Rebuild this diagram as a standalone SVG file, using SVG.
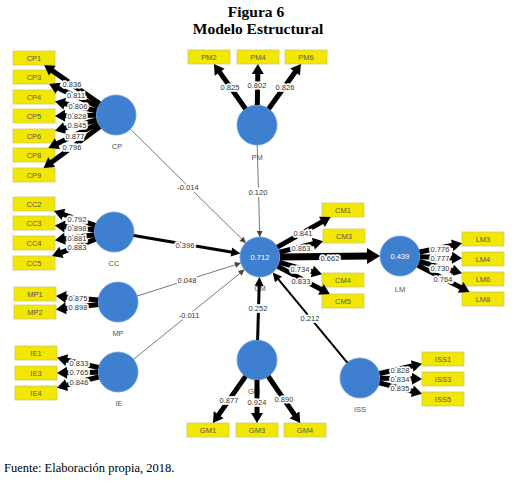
<svg xmlns="http://www.w3.org/2000/svg" width="514" height="486" viewBox="0 0 514 486">
<style>
.title{font-family:"Liberation Serif",serif;font-weight:bold;font-size:15.5px;fill:#000;text-anchor:middle}
.foot{font-family:"Liberation Serif",serif;font-size:12.5px;fill:#000}
.lv{fill:#3f7fd0;stroke:#6a9ddd;stroke-width:0.8}
.ind rect{fill:#f2e700;stroke:#cfc86a;stroke-width:0.8}
.ind text,.nl{font-family:"Liberation Sans",Arial,sans-serif;font-size:7.5px;fill:#555;text-anchor:middle}
.iv{font-family:"Liberation Sans",Arial,sans-serif;font-size:7.5px;fill:#fff;text-anchor:middle}
.ld{stroke:#000;stroke-width:5;fill:none;marker-end:url(#ah)}
.thin{stroke:#555;stroke-width:0.8;fill:none;marker-end:url(#ahs)}
.med{stroke:#000;stroke-width:3;fill:none;marker-end:url(#ahm)}
.lab{font-family:"Liberation Sans",Arial,sans-serif;font-size:7.5px;fill:#333;text-anchor:middle;stroke:#fff;stroke-width:3.5;paint-order:stroke;stroke-linejoin:miter}
marker{overflow:visible}
</style>
<defs>
<marker id="ah" markerUnits="userSpaceOnUse" viewBox="-1 -7 11 14" markerWidth="11" markerHeight="14" refX="0" refY="0" orient="auto"><path d="M-1,-6 L9,0 L-1,6 z" fill="#000"/></marker>
<marker id="ahm" markerUnits="userSpaceOnUse" viewBox="-1 -5 10 10" markerWidth="10" markerHeight="10" refX="0" refY="0" orient="auto"><path d="M-1,-4.5 L8,0 L-1,4.5 z" fill="#000"/></marker>
<marker id="ahl" markerUnits="userSpaceOnUse" viewBox="-1 -9 14 18" markerWidth="14" markerHeight="18" refX="0" refY="0" orient="auto"><path d="M-1,-8 L12,0 L-1,8 z" fill="#000"/></marker>
<marker id="ahs" markerUnits="userSpaceOnUse" viewBox="-7 -4 8 8" markerWidth="8" markerHeight="8" refX="0" refY="0" orient="auto"><path d="M-6,-3 L0,0 L-6,3 z" fill="#444"/></marker>
</defs>
<rect width="514" height="486" fill="#fff"/>
<text class="title" x="256" y="17">Figura 6</text>
<text class="title" x="258" y="34">Modelo Estructural</text>

<g id="CP"><circle class="lv" cx="116" cy="115" r="20"/><text class="nl" x="117" y="149">CP</text></g>
<g id="PM"><circle class="lv" cx="257" cy="125" r="20"/><text class="nl" x="257" y="160">PM</text></g>
<g id="CC"><circle class="lv" cx="114" cy="232" r="20"/><text class="nl" x="114" y="266">CC</text></g>
<g id="MP"><circle class="lv" cx="118" cy="302" r="20"/><text class="nl" x="118" y="336">MP</text></g>
<g id="IE"><circle class="lv" cx="118" cy="372" r="20"/><text class="nl" x="119" y="406">IE</text></g>
<g id="CM"><circle class="lv" cx="260" cy="257" r="20"/><text class="iv" x="260" y="260">0.712</text><text class="nl" x="260" y="291">CM</text></g>
<g id="LM"><circle class="lv" cx="400" cy="256" r="20"/><text class="iv" x="400" y="259">0.439</text><text class="nl" x="400" y="292">LM</text></g>
<g id="GM"><circle class="lv" cx="257" cy="360" r="20"/><text class="nl" x="254" y="394">GM</text></g>
<g id="ISS"><circle class="lv" cx="360" cy="378" r="20"/><text class="nl" x="360" y="412">ISS</text></g>

<g class="ind">
<g id="CP1"><rect x="13" y="51" width="42" height="14"/><text x="34" y="60.5">CP1</text></g>
<g id="CP3"><rect x="13" y="70" width="42" height="14"/><text x="34" y="79.5">CP3</text></g>
<g id="CP4"><rect x="13" y="90" width="42" height="14"/><text x="34" y="99.5">CP4</text></g>
<g id="CP5"><rect x="13" y="109" width="42" height="14"/><text x="34" y="118.5">CP5</text></g>
<g id="CP6"><rect x="13" y="129" width="42" height="14"/><text x="34" y="138.5">CP6</text></g>
<g id="CP8"><rect x="13" y="148" width="42" height="14"/><text x="34" y="157.5">CP8</text></g>
<g id="CP9"><rect x="13" y="168" width="42" height="14"/><text x="34" y="177.5">CP9</text></g>
<g id="CC2"><rect x="13" y="197" width="42" height="14"/><text x="34" y="206.5">CC2</text></g>
<g id="CC3"><rect x="13" y="216" width="42" height="14"/><text x="34" y="225.5">CC3</text></g>
<g id="CC4"><rect x="13" y="236" width="42" height="14"/><text x="34" y="245.5">CC4</text></g>
<g id="CC5"><rect x="13" y="256" width="42" height="14"/><text x="34" y="265.5">CC5</text></g>
<g id="MP1"><rect x="14" y="287" width="42" height="14"/><text x="35" y="296.5">MP1</text></g>
<g id="MP2"><rect x="14" y="305" width="42" height="14"/><text x="35" y="314.5">MP2</text></g>
<g id="IE1"><rect x="15" y="346" width="42" height="14"/><text x="36" y="355.5">IE1</text></g>
<g id="IE3"><rect x="15" y="366" width="42" height="14"/><text x="36" y="375.5">IE3</text></g>
<g id="IE4"><rect x="15" y="386" width="42" height="14"/><text x="36" y="395.5">IE4</text></g>
<g id="PM2"><rect x="188" y="50" width="42" height="14"/><text x="209" y="59.5">PM2</text></g>
<g id="PM4"><rect x="237" y="50" width="42" height="14"/><text x="258" y="59.5">PM4</text></g>
<g id="PM6"><rect x="285" y="50" width="42" height="14"/><text x="306" y="59.5">PM6</text></g>
<g id="CM1"><rect x="322" y="203" width="42" height="14"/><text x="343" y="212.5">CM1</text></g>
<g id="CM3"><rect x="323" y="229" width="42" height="14"/><text x="344" y="238.5">CM3</text></g>
<g id="CM4"><rect x="322" y="273" width="42" height="14"/><text x="343" y="282.5">CM4</text></g>
<g id="CM5"><rect x="322" y="294" width="42" height="14"/><text x="343" y="303.5">CM5</text></g>
<g id="LM3"><rect x="462" y="232" width="42" height="14"/><text x="483" y="241.5">LM3</text></g>
<g id="LM4"><rect x="462" y="252" width="42" height="14"/><text x="483" y="261.5">LM4</text></g>
<g id="LM6"><rect x="462" y="272" width="42" height="14"/><text x="483" y="281.5">LM6</text></g>
<g id="LM8"><rect x="462" y="292" width="42" height="14"/><text x="483" y="301.5">LM8</text></g>
<g id="GM1"><rect x="187" y="423" width="42" height="14"/><text x="208" y="432.5">GM1</text></g>
<g id="GM3"><rect x="236" y="423" width="42" height="14"/><text x="257" y="432.5">GM3</text></g>
<g id="GM4"><rect x="284" y="423" width="42" height="14"/><text x="305" y="432.5">GM4</text></g>
<g id="ISS1"><rect x="422" y="352" width="42" height="14"/><text x="443" y="361.5">ISS1</text></g>
<g id="ISS3"><rect x="422" y="372" width="42" height="14"/><text x="443" y="381.5">ISS3</text></g>
<g id="ISS5"><rect x="422" y="392" width="42" height="14"/><text x="443" y="401.5">ISS5</text></g>
</g>

<g id="connectors">
<line class="ld" x1="99.6" y1="103.6" x2="51.5" y2="70.1"/>
<line class="ld" x1="97.9" y1="106.6" x2="57.3" y2="87.8"/>
<line class="ld" x1="96.5" y1="110.7" x2="63.8" y2="103.5"/>
<line class="ld" x1="96" y1="115.2" x2="64" y2="115.8"/>
<line class="ld" x1="96.6" y1="120" x2="63.7" y2="128.4"/>
<line class="ld" x1="98" y1="123.8" x2="56.5" y2="144"/>
<line class="ld" x1="99.9" y1="126.8" x2="50.9" y2="162.7"/>
<line class="ld" x1="95.1" y1="225.4" x2="62.5" y2="214"/>
<line class="ld" x1="94.1" y1="229.8" x2="63.9" y2="226.4"/>
<line class="ld" x1="94.2" y1="234.7" x2="63.9" y2="238.9"/>
<line class="ld" x1="95.4" y1="239.2" x2="60.5" y2="252.8"/>
<line class="ld" x1="98.1" y1="300.1" x2="65" y2="296.9"/>
<line class="ld" x1="98.1" y1="304.4" x2="64.9" y2="308.4"/>
<line class="ld" x1="98.5" y1="367.5" x2="65.8" y2="359.9"/>
<line class="ld" x1="98" y1="372.2" x2="66" y2="372.8"/>
<line class="ld" x1="98.6" y1="377" x2="65.7" y2="385.4"/>
<line class="ld" x1="245.5" y1="108.7" x2="219.1" y2="71.4"/>
<line class="ld" x1="257.3" y1="105" x2="257.8" y2="73"/>
<line class="ld" x1="268.7" y1="108.8" x2="295.7" y2="71.3"/>
<line class="ld" x1="277.4" y1="247.1" x2="322.8" y2="221.4"/>
<line class="ld" x1="279.4" y1="252.2" x2="314.3" y2="243.4"/>
<line class="ld" x1="279.3" y1="262.3" x2="313.3" y2="271.8"/>
<line class="ld" x1="277.7" y1="266.4" x2="321.8" y2="289.8"/>
<line class="ld" x1="419.6" y1="252" x2="453.2" y2="245.1"/>
<line class="ld" x1="420" y1="256.7" x2="453" y2="257.9"/>
<line class="ld" x1="419.3" y1="261.3" x2="453.3" y2="270.8"/>
<line class="ld" x1="417.8" y1="265.2" x2="461.5" y2="287.9"/>
<line class="ld" x1="245.5" y1="376.4" x2="218.1" y2="415.6"/>
<line class="ld" x1="257" y1="380" x2="257" y2="414"/>
<line class="ld" x1="268.3" y1="376.5" x2="295.1" y2="415.6"/>
<line class="ld" x1="379.5" y1="373.5" x2="413.2" y2="365.8"/>
<line class="ld" x1="380" y1="378.2" x2="413" y2="378.8"/>
<line class="ld" x1="379.4" y1="382.9" x2="413.3" y2="391.5"/>

<line class="thin" x1="130.2" y1="129" x2="245.8" y2="243"/>
<line class="thin" x1="257.2" y1="145" x2="259.8" y2="237"/>
<line class="thin" x1="137.1" y1="296" x2="240.9" y2="263"/>
<line class="thin" x1="133.5" y1="359.4" x2="244.5" y2="269.6"/>
<line class="med" x1="133.7" y1="235.4" x2="232.4" y2="252.2"/>
<line class="med" x1="257.6" y1="340" x2="259.2" y2="285"/>
<line class="med" style="stroke-width:2" x1="347.3" y1="362.6" x2="277.8" y2="278.6"/>
<line style="stroke:#000;stroke-width:7;marker-end:url(#ahl)" x1="280" y1="257" x2="368" y2="256.1"/>

<text class="lab" x="72" y="87">0.836</text>
<text class="lab" x="76" y="98">0.811</text>
<text class="lab" x="78" y="109">0.806</text>
<text class="lab" x="77" y="119">0.828</text>
<text class="lab" x="77" y="128">0.845</text>
<text class="lab" x="75" y="139">0.877</text>
<text class="lab" x="72" y="150">0.796</text>
<text class="lab" x="77" y="222">0.792</text>
<text class="lab" x="77" y="231">0.898</text>
<text class="lab" x="77" y="241">0.881</text>
<text class="lab" x="77" y="250">0.883</text>
<text class="lab" x="78" y="301">0.875</text>
<text class="lab" x="78" y="310">0.898</text>
<text class="lab" x="79" y="366">0.833</text>
<text class="lab" x="79" y="375">0.765</text>
<text class="lab" x="79" y="385">0.846</text>
<text class="lab" x="230" y="90">0.825</text>
<text class="lab" x="257" y="88">0.802</text>
<text class="lab" x="285" y="90">0.826</text>
<text class="lab" x="303" y="236">0.841</text>
<text class="lab" x="301" y="251">0.863</text>
<text class="lab" x="300" y="272">0.734</text>
<text class="lab" x="301" y="284">0.833</text>
<text class="lab" x="440" y="252">0.776</text>
<text class="lab" x="440" y="261">0.777</text>
<text class="lab" x="440" y="271">0.730</text>
<text class="lab" x="443" y="282">0.764</text>
<text class="lab" x="229" y="403">0.877</text>
<text class="lab" x="257" y="405">0.924</text>
<text class="lab" x="284" y="402">0.890</text>
<text class="lab" x="400" y="373">0.828</text>
<text class="lab" x="400" y="382">0.834</text>
<text class="lab" x="400" y="391">0.835</text>
<text class="lab" x="188" y="190">-0.014</text>
<text class="lab" x="258" y="195">0.120</text>
<text class="lab" x="185" y="248">0.396</text>
<text class="lab" x="187" y="283">0.048</text>
<text class="lab" x="189" y="318">-0.011</text>
<text class="lab" x="258" y="311">0.252</text>
<text class="lab" x="310" y="321">0.212</text>
<text class="lab" x="330" y="261">0.662</text>
</g>

<text class="foot" x="4" y="472">Fuente: Elaboración propia, 2018.</text>
</svg>
